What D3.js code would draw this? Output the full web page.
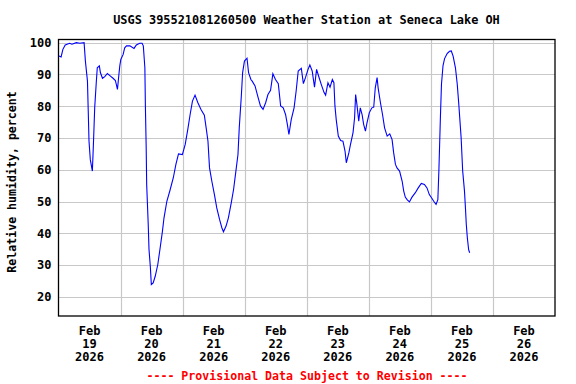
<!DOCTYPE html>
<html>
<head>
<meta charset="utf-8">
<script src="https://cdn.jsdelivr.net/npm/d3@7"></script>
<style>
  html, body { margin: 0; padding: 0; background: #ffffff; }
  svg { display: block; }
  text { font-family: "DejaVu Sans Mono", "Liberation Mono", monospace; font-weight: bold; font-size: 12px; }
</style>
</head>
<body>
<script>
// ---- Data (hours since Feb 19 2026 00:00, relative humidity %) ----
const hours = [
  0.2, 1.0, 1.7, 2.6, 4.3, 5.2, 6.9, 8.2, 9.9, 10.4, 11.2, 11.5, 11.8, 12.3, 13.1, 13.5, 14.0, 14.6, 15.0, 15.8,
  16.2, 17.0, 17.9, 18.9, 20.1, 21.1, 22.0, 22.8, 23.3, 23.7, 24.1, 25.0, 25.6, 26.3, 27.6, 29.2, 30.1, 31.4, 32.3, 32.8,
  33.4, 33.6, 33.9, 34.1, 34.7, 35.0, 35.5, 35.9, 36.6, 37.4, 38.4, 39.3, 40.2, 40.8, 41.9, 43.2, 44.4, 45.4, 46.4, 47.9,
  49.0, 50.0, 50.9, 51.8, 52.8, 53.9, 55.1, 56.4, 57.1, 57.8, 58.4, 59.3, 60.3, 61.2, 62.3, 63.2, 63.8, 64.8, 65.7, 66.8,
  67.7, 68.6, 69.4, 69.9, 70.7, 71.2, 71.9, 72.9, 73.5, 74.4, 74.9, 76.0, 77.2, 78.1, 79.1, 80.1, 81.0, 82.0, 82.9, 83.9,
  85.0, 85.9, 86.9, 87.8, 88.5, 89.1, 90.0, 91.1, 91.9, 92.7, 93.9, 94.7, 95.5, 96.5, 97.2, 98.1, 99.0, 99.8, 100.7, 101.6,
  102.7, 103.3, 104.2, 105.0, 105.9, 106.5, 106.9, 107.4, 108.2, 109.1, 110.0, 110.8, 111.3, 112.3, 112.8, 113.9, 114.5, 114.9, 115.4, 116.1,
  116.7, 117.4, 118.0, 118.7, 119.3, 120.2, 121.2, 121.9, 122.5, 123.2, 123.6, 124.5, 125.3, 126.1, 127.1, 128.1, 129.0, 129.6, 130.3, 130.9,
  131.9, 132.9, 133.5, 134.1, 134.8, 135.7, 136.7, 138.0, 139.1, 140.3, 141.5, 142.5, 143.4, 144.5, 145.1, 146.0, 146.7, 147.1, 147.7, 148.1,
  148.7, 149.3, 150.3, 151.2, 151.9, 152.6, 153.5, 154.2, 154.8, 155.7, 156.3, 157.0, 157.4, 157.7, 158.1, 158.6, 159.0
];
const humidity = [
  95.8, 95.5, 97.9, 99.3, 99.8, 99.5, 100.0, 99.8, 100.0, 94.2, 87.9, 78.5, 69.0, 63.2, 59.6, 68.0, 79.5, 87.4, 92.1, 92.7,
  90.6, 88.8, 89.3, 90.3, 89.5, 88.8, 88.1, 85.3, 89.5, 92.7, 94.7, 96.3, 98.4, 99.0, 99.0, 98.2, 99.3, 99.8, 99.8, 99.0,
  92.1, 80.1, 67.5, 55.4, 42.8, 34.9, 29.7, 23.9, 24.4, 26.5, 30.2, 35.4, 40.7, 44.9, 50.1, 53.8, 57.5, 61.7, 65.0, 64.8,
  68.0, 72.7, 77.4, 81.6, 83.5, 81.1, 79.0, 77.2, 73.2, 69.0, 60.6, 56.4, 52.2, 48.0, 44.3, 41.7, 40.5, 42.3, 44.9, 49.6,
  53.8, 59.6, 64.8, 73.2, 83.2, 90.6, 94.2, 95.1, 90.6, 88.4, 87.9, 86.4, 82.7, 80.1, 79.0, 81.1, 83.7, 85.0, 90.2, 88.4,
  87.1, 80.1, 79.5, 77.4, 74.3, 71.1, 75.8, 79.5, 84.8, 91.1, 91.9, 87.1, 89.0, 91.6, 93.0, 91.1, 86.0, 91.6, 89.2, 86.9,
  84.3, 83.5, 87.4, 86.0, 88.4, 87.4, 80.1, 75.8, 70.6, 69.2, 69.0, 65.9, 62.2, 65.4, 67.5, 71.7, 76.4, 83.7, 80.6, 75.3,
  79.5, 77.4, 74.3, 72.2, 74.8, 78.0, 79.5, 79.7, 85.8, 89.0, 85.8, 81.1, 77.4, 73.2, 70.6, 71.3, 69.5, 65.4, 61.7, 60.6,
  59.6, 56.4, 53.3, 51.4, 50.6, 49.9, 51.4, 52.8, 54.3, 55.7, 55.4, 54.3, 52.2, 50.9, 50.1, 49.1, 50.6, 59.8, 76.9, 86.9,
  92.8, 95.0, 96.6, 97.3, 97.4, 95.8, 92.1, 86.9, 80.6, 70.1, 59.6, 53.3, 47.5, 42.8, 38.6, 34.9, 33.9
];
const yTicks = [20, 30, 40, 50, 60, 70, 80, 90, 100];
const dayLabels = ["19", "20", "21", "22", "23", "24", "25", "26"];
const monthLabel = "Feb";
const yearLabel = "2026";
const titleText = "USGS 395521081260500 Weather Station at Seneca Lake OH";
const yAxisTitle = "Relative humidity, percent";
const footerText = "---- Provisional Data Subject to Revision ----";

// ---- Layout ----
const W = 576, H = 384;
const plotL = 58.5, plotR = 555, plotT = 39.5, plotB = 316;
const t0 = Date.UTC(2026, 1, 19);
const HOUR = 3600 * 1000, DAY = 24 * HOUR;

const x = d3.scaleUtc()
  .domain([new Date(t0), new Date(t0 + 8 * DAY)])
  .range([plotL, plotR]);
const y = d3.scaleLinear().domain([14, 101]).range([plotB, plotT]);

const svg = d3.select("body").append("svg").attr("width", W).attr("height", H);

// gridlines - vertical (midnight)
const midnights = d3.range(1, 8).map(i => new Date(t0 + i * DAY));
svg.append("g").selectAll("line").data(midnights).join("line")
  .attr("x1", d => Math.round(x(d)) + 0.5).attr("x2", d => Math.round(x(d)) + 0.5)
  .attr("y1", plotT).attr("y2", plotB)
  .attr("stroke", "#c8c8c8").attr("stroke-width", 1.2);

// gridlines - horizontal
svg.append("g").selectAll("line").data(yTicks).join("line")
  .attr("x1", plotL).attr("x2", plotR)
  .attr("y1", d => Math.round(y(d)) + 0.5).attr("y2", d => Math.round(y(d)) + 0.5)
  .attr("stroke", "#c8c8c8").attr("stroke-width", 1.2);

// data line
const pts = hours.map((h, i) => ({ t: new Date(t0 + h * HOUR), v: humidity[i] }));
svg.append("path").datum(pts)
  .attr("fill", "none").attr("stroke", "#0000ff").attr("stroke-width", 1.1)
  .attr("d", d3.line().x(d => x(d.t)).y(d => y(d.v)));

// frame
svg.append("rect").attr("x", plotL).attr("y", plotT)
  .attr("width", plotR - plotL).attr("height", plotB - plotT)
  .attr("fill", "none").attr("stroke", "#000").attr("stroke-width", 1.3);

// y tick labels
const yAxis = d3.axisLeft(y).tickValues(yTicks).tickSize(0).tickPadding(7);
const gy = svg.append("g").attr("transform", `translate(${plotL},0)`).call(yAxis);
gy.select(".domain").remove();
gy.selectAll("text").attr("font-size", 12).attr("fill", "#000")
  .style("font-family", '"DejaVu Sans Mono", monospace').style("font-weight", "bold");

// x labels at noon
const noons = dayLabels.map((d, i) => ({ t: new Date(t0 + i * DAY + 12 * HOUR), day: d }));
const xl = svg.append("g").selectAll("text").data(noons).join("text")
  .attr("x", d => x(d.t)).attr("y", 334.5).attr("text-anchor", "middle").attr("fill", "#000");
xl.append("tspan").attr("x", d => x(d.t)).attr("y", 334.5).text(monthLabel);
xl.append("tspan").attr("x", d => x(d.t)).attr("y", 347.5).text(d => d.day);
xl.append("tspan").attr("x", d => x(d.t)).attr("y", 360.5).text(yearLabel);

// title
svg.append("text").attr("x", 306.5).attr("y", 24)
  .attr("text-anchor", "middle").attr("fill", "#000").style("font-size", "11.9px").text(titleText);

// y axis title
svg.append("text").attr("transform", `translate(16,182) rotate(-90)`)
  .attr("text-anchor", "middle").attr("fill", "#000").style("font-size", "11.6px").text(yAxisTitle);

// footer
svg.append("text").attr("x", 307).attr("y", 379.5)
  .attr("text-anchor", "middle").attr("fill", "#ff0000").style("font-size", "11.6px").text(footerText);
</script>
</body>
</html>
